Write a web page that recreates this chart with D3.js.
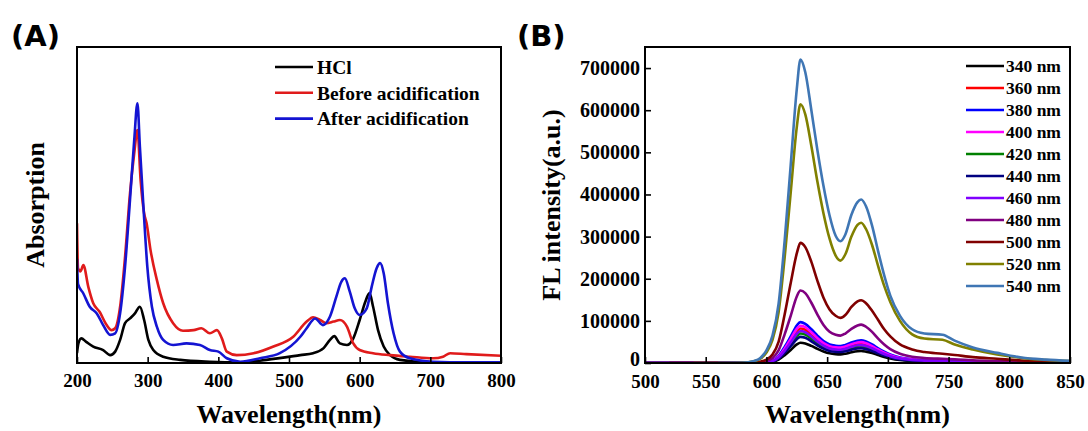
<!DOCTYPE html>
<html>
<head>
<meta charset="utf-8">
<script src="https://cdn.jsdelivr.net/npm/d3@7"></script>
<style>
  html, body { margin: 0; padding: 0; background: #fff; }
  svg { display: block; }
</style>
</head>
<body>
<svg id="chart" width="1088" height="431"></svg>
<script>
// ---------------- Panel A data (absorption, arbitrary units) ----------------
const xTicksA = [200, 300, 400, 500, 600, 700, 800];
const seriesNamesA = ["HCl", "Before acidification", "After acidification"];
const colorsA = ["#000000", "#e01b1b", "#1414d2"];

const wlHCl = [200, 202, 206, 213, 223, 237, 247, 254, 261, 268, 275, 282, 289, 295, 301, 308, 322, 346, 388, 431, 468, 516, 534, 549, 558, 564, 572, 582, 591, 600, 608, 614, 619, 626, 634, 643, 657, 704, 800];
const absHCl = [0.031, 0.062, 0.078, 0.067, 0.052, 0.041, 0.025, 0.036, 0.073, 0.126, 0.141, 0.157, 0.178, 0.136, 0.073, 0.041, 0.020, 0.010, 0.004, 0.002, 0.010, 0.025, 0.031, 0.047, 0.073, 0.085, 0.062, 0.057, 0.078, 0.136, 0.194, 0.221, 0.178, 0.104, 0.052, 0.025, 0.010, 0.002, 0.002];

const wlBefore = [200, 201.5, 205, 209, 216, 223, 232, 242, 249, 254, 261, 268, 275, 281, 285.5, 290, 295, 298.5, 304, 313, 322, 336, 350, 365, 376, 388, 398, 405, 412, 426, 450, 478, 506, 525, 534, 544, 553, 563, 572, 582, 591, 600, 619, 643, 671, 704, 718, 728, 751, 800];
const absBefore = [0.442, 0.300, 0.290, 0.310, 0.241, 0.189, 0.162, 0.120, 0.104, 0.110, 0.178, 0.336, 0.537, 0.664, 0.737, 0.579, 0.474, 0.442, 0.358, 0.263, 0.189, 0.126, 0.102, 0.104, 0.110, 0.094, 0.104, 0.078, 0.036, 0.025, 0.031, 0.052, 0.083, 0.131, 0.145, 0.136, 0.126, 0.131, 0.136, 0.115, 0.062, 0.041, 0.031, 0.025, 0.020, 0.015, 0.020, 0.031, 0.028, 0.023];

const wlAfter = [200, 201.5, 209, 218, 228, 237, 247, 254, 261, 268, 275, 281, 285.5, 289, 294, 299.5, 306, 313, 322, 336, 355, 374, 388, 400, 412, 431, 459, 487, 516, 525, 537, 548, 558, 567, 574, 579, 586, 593, 600, 610, 617, 624, 629, 634, 640, 648, 657, 671, 704, 751, 800];
const absAfter = [0.330, 0.250, 0.220, 0.178, 0.157, 0.120, 0.089, 0.094, 0.157, 0.305, 0.516, 0.706, 0.822, 0.684, 0.495, 0.305, 0.178, 0.115, 0.073, 0.057, 0.062, 0.057, 0.041, 0.036, 0.015, 0.004, 0.015, 0.031, 0.083, 0.110, 0.141, 0.120, 0.147, 0.210, 0.257, 0.268, 0.226, 0.173, 0.152, 0.173, 0.241, 0.300, 0.316, 0.284, 0.189, 0.094, 0.036, 0.015, 0.004, 0.002, 0.002];

// ---------------- Panel B data (fluorescence intensity) ----------------
const xTicksB = [500, 550, 600, 650, 700, 750, 800, 850];
const yTicksB = [0, 100000, 200000, 300000, 400000, 500000, 600000, 700000];
const excitation = ["340 nm", "360 nm", "380 nm", "400 nm", "420 nm", "440 nm", "460 nm", "480 nm", "500 nm", "520 nm", "540 nm"];
const colorsB = ["#000000", "#ff0000", "#0000ff", "#ff00ff", "#008000", "#000080", "#8000ff", "#800080", "#800000", "#808000", "#3f76b4"];

const wlB = [500, 520, 540, 560, 580, 590, 595, 600, 605, 610, 615, 620, 625, 628, 632, 637, 642, 647, 652, 657, 661, 665, 670, 675, 678, 682, 687, 692, 697, 702, 710, 720, 730, 745, 755, 770, 790, 810, 830, 850];

const fl340 = [0, 0, 0, 0, 0, 0, 200, 900, 2900, 8200, 18500, 31000, 44000, 48000, 46500, 40500, 33500, 27500, 23000, 21000, 20500, 22000, 25500, 28000, 28500, 27000, 23500, 19000, 14500, 11000, 7000, 4800, 3800, 3000, 2500, 1900, 1300, 800, 500, 200];
const fl360 = [0, 0, 0, 0, 0, 0, 400, 1600, 5000, 14000, 32000, 53000, 75000, 82000, 79000, 68000, 55000, 44000, 37000, 34500, 34000, 36500, 41500, 45000, 46000, 43500, 37500, 30000, 23000, 17000, 11000, 7500, 6000, 4800, 3800, 2900, 2000, 1300, 800, 400];
const fl380 = [0, 0, 0, 0, 0, 0, 500, 2000, 6000, 17000, 38000, 63000, 89000, 97000, 93000, 80000, 65000, 52000, 44000, 41000, 40000, 43000, 49000, 53000, 54000, 51000, 44000, 35000, 27000, 20000, 13000, 9000, 7000, 5500, 4500, 3500, 2500, 1500, 1000, 500];
const fl400 = [0, 0, 0, 0, 0, 0, 400, 1800, 5500, 15000, 34000, 57000, 81000, 88000, 85000, 73000, 59000, 47000, 40000, 37000, 36500, 39000, 44500, 48500, 49500, 47000, 40000, 32000, 24500, 18500, 12000, 8000, 6500, 5000, 4000, 3000, 2200, 1400, 900, 400];
const fl420 = [0, 0, 0, 0, 0, 0, 300, 1400, 4200, 12000, 27000, 45000, 64000, 70000, 67500, 58000, 47000, 38000, 32000, 29500, 29000, 31000, 35500, 38500, 39000, 37000, 32000, 25500, 19500, 14500, 9500, 6500, 5200, 4200, 3400, 2500, 1800, 1100, 700, 300];
const fl440 = [0, 0, 0, 0, 0, 0, 300, 1200, 3800, 10500, 24000, 40000, 56500, 62000, 60000, 51500, 42000, 34000, 28500, 26500, 26000, 28000, 31500, 34500, 35000, 33000, 28500, 23000, 17500, 13000, 8500, 5800, 4700, 3800, 3000, 2300, 1600, 1000, 600, 300];
const fl460 = [0, 0, 0, 0, 0, 0, 300, 1500, 4600, 13000, 29500, 49000, 69500, 76000, 73000, 63000, 51000, 41000, 34500, 32000, 31500, 34000, 38500, 42000, 42500, 40500, 35000, 28000, 21500, 16000, 10500, 7000, 5600, 4500, 3600, 2700, 1900, 1200, 800, 400];
const fl480 = [0, 0, 0, 0, 0, 500, 1500, 5000, 12000, 30000, 68000, 112000, 158000, 172000, 166000, 143000, 115000, 90000, 74000, 67000, 65000, 70000, 81000, 89000, 91000, 86000, 74000, 58000, 44000, 33000, 22000, 15000, 12000, 10000, 9000, 6500, 4500, 3000, 2000, 1000];
const fl500 = [null, 0, 0, 0, 0, 1000, 3000, 8000, 20000, 50000, 115000, 190000, 260000, 285000, 275000, 240000, 195000, 155000, 127000, 112000, 107000, 114000, 133000, 146000, 149000, 142000, 124000, 102000, 80000, 63000, 44000, 32000, 26000, 22000, 19000, 14000, 10000, 6000, 4000, 2000];
const fl520 = [null, null, 0, 0, 300, 4000, 10000, 25000, 55000, 120000, 250000, 405000, 560000, 614000, 590000, 515000, 430000, 355000, 295000, 255000, 243000, 258000, 300000, 328000, 333000, 318000, 280000, 230000, 183000, 145000, 100000, 68000, 58000, 55000, 44000, 32000, 20000, 12000, 7000, 4500];
const fl540 = [null, null, null, 0, 500, 5000, 12000, 30000, 65000, 140000, 290000, 470000, 650000, 720000, 690000, 600000, 505000, 420000, 350000, 302000, 289000, 305000, 352000, 382000, 388000, 372000, 326000, 265000, 208000, 160000, 112000, 80000, 70000, 67000, 53000, 37000, 24000, 13000, 8000, 5000];

// ---------------- Drawing ----------------
const svg = d3.select("#chart");
const FONT = '"Liberation Serif", "Times New Roman", serif';
const defs = svg.append("defs");

function frame(g, x0, x1, y0, y1) {
  g.append("rect").attr("x", x0).attr("y", y0).attr("width", x1 - x0).attr("height", y1 - y0)
    .attr("fill", "none").attr("stroke", "#000").attr("stroke-width", 2);
}

function styleAxis(g, size) {
  g.select(".domain").remove();
  g.selectAll(".tick line").attr("stroke", "#000").attr("stroke-width", 1.6);
  g.selectAll(".tick text").attr("fill", "#000").style("font-family", FONT)
    .style("font-weight", "bold").style("font-size", size + "px");
}

// ----- Panel A -----
const A = { x0: 77, x1: 501, y0: 47, y1: 363 };
const xA = d3.scaleLinear().domain([200, 800]).range([A.x0, A.x1]);
const yA = d3.scaleLinear().domain([0, 1]).range([A.y1, A.y0]);

const gA = svg.append("g");
defs.append("clipPath").attr("id", "clipA").append("rect")
  .attr("x", A.x0).attr("y", A.y0).attr("width", A.x1 - A.x0).attr("height", A.y1 - A.y0);

const lineA = d3.line().x(d => xA(d[0])).y(d => yA(d[1])).curve(d3.curveMonotoneX);
const dataA = [d3.zip(wlHCl, absHCl), d3.zip(wlBefore, absBefore), d3.zip(wlAfter, absAfter)];
const plotA = gA.append("g").attr("clip-path", "url(#clipA)");
dataA.forEach((d, i) => {
  plotA.append("path").datum(d).attr("d", lineA).attr("fill", "none")
    .attr("stroke", colorsA[i]).attr("stroke-width", 2.6).attr("stroke-linejoin", "round");
});

const axA = gA.append("g").attr("transform", `translate(0,${A.y1})`)
  .call(d3.axisBottom(xA).tickValues(xTicksA).tickFormat(d3.format("d")).tickSizeInner(-6).tickSizeOuter(0).tickPadding(11));
styleAxis(axA, 19);
frame(gA, A.x0, A.x1, A.y0, A.y1);

const legA = gA.append("g");
seriesNamesA.forEach((name, i) => {
  const y = 67 + i * 25.8;
  legA.append("line").attr("x1", 275).attr("x2", 313).attr("y1", y).attr("y2", y)
    .attr("stroke", colorsA[i]).attr("stroke-width", 2.6);
  legA.append("text").attr("x", 317).attr("y", y).attr("dy", "0.35em").text(name)
    .style("font-family", FONT).style("font-weight", "bold").style("font-size", "19.5px");
});

gA.append("text").attr("x", (A.x0 + A.x1) / 2).attr("y", 423).attr("text-anchor", "middle")
  .text("Wavelength(nm)").style("font-family", FONT).style("font-weight", "bold").style("font-size", "26px");
gA.append("text").attr("transform", `translate(44,${(A.y0 + A.y1) / 2}) rotate(-90)`).attr("text-anchor", "middle")
  .text("Absorption").style("font-family", FONT).style("font-weight", "bold").style("font-size", "26px");
gA.append("text").attr("x", 11).attr("y", 46).text("(A)")
  .style("font-family", '"DejaVu Sans", sans-serif').style("font-weight", "bold").style("font-size", "29px");

// ----- Panel B -----
const B = { x0: 645, x1: 1070, y0: 47, y1: 363 };
const xB = d3.scaleLinear().domain([500, 850]).range([B.x0, B.x1]);
const yB = d3.scaleLinear().domain([0, 750000]).range([B.y1, B.y0]);

const gB = svg.append("g");
defs.append("clipPath").attr("id", "clipB").append("rect")
  .attr("x", B.x0).attr("y", B.y0 - 2).attr("width", B.x1 - B.x0).attr("height", B.y1 - B.y0 + 2);

const seriesB = [fl340, fl360, fl380, fl400, fl420, fl440, fl460, fl480, fl500, fl520, fl540];
const lineB = d3.line().defined(d => d[1] !== null).x(d => xB(d[0])).y(d => yB(d[1])).curve(d3.curveMonotoneX);
const plotB = gB.append("g").attr("clip-path", "url(#clipB)");
seriesB.forEach((vals, i) => {
  plotB.append("path").datum(d3.zip(wlB, vals)).attr("d", lineB).attr("fill", "none")
    .attr("stroke", colorsB[i]).attr("stroke-width", 2.6).attr("stroke-linejoin", "round");
});

const axBx = gB.append("g").attr("transform", `translate(0,${B.y1})`)
  .call(d3.axisBottom(xB).tickValues(xTicksB).tickFormat(d3.format("d")).tickSizeInner(-6).tickSizeOuter(0).tickPadding(12));
styleAxis(axBx, 19);
const axBy = gB.append("g").attr("transform", `translate(${B.x0},0)`)
  .call(d3.axisLeft(yB).tickValues(yTicksB).tickFormat(d3.format("d")).tickSizeInner(-6).tickSizeOuter(0).tickPadding(5));
styleAxis(axBy, 20);
// lift the "0" label slightly so it clears the "500" label below
axBy.selectAll(".tick text").filter(d => d === 0).attr("dy", "0.12em");
frame(gB, B.x0, B.x1, B.y0, B.y1);

const legB = gB.append("g");
excitation.forEach((name, i) => {
  const y = 66 + i * 22;
  legB.append("line").attr("x1", 966).attr("x2", 1004).attr("y1", y).attr("y2", y)
    .attr("stroke", colorsB[i]).attr("stroke-width", 2.6);
  legB.append("text").attr("x", 1006).attr("y", y).attr("dy", "0.35em").text(name)
    .style("font-family", FONT).style("font-weight", "bold").style("font-size", "17.5px");
});

gB.append("text").attr("x", (B.x0 + B.x1) / 2).attr("y", 423).attr("text-anchor", "middle")
  .text("Wavelength(nm)").style("font-family", FONT).style("font-weight", "bold").style("font-size", "26px");
gB.append("text").attr("transform", `translate(560,${(B.y0 + B.y1) / 2}) rotate(-90)`).attr("text-anchor", "middle")
  .text("FL intensity(a.u.)").style("font-family", FONT).style("font-weight", "bold").style("font-size", "26px");
gB.append("text").attr("x", 517).attr("y", 46).text("(B)")
  .style("font-family", '"DejaVu Sans", sans-serif').style("font-weight", "bold").style("font-size", "29px");
</script>
</body>
</html>
